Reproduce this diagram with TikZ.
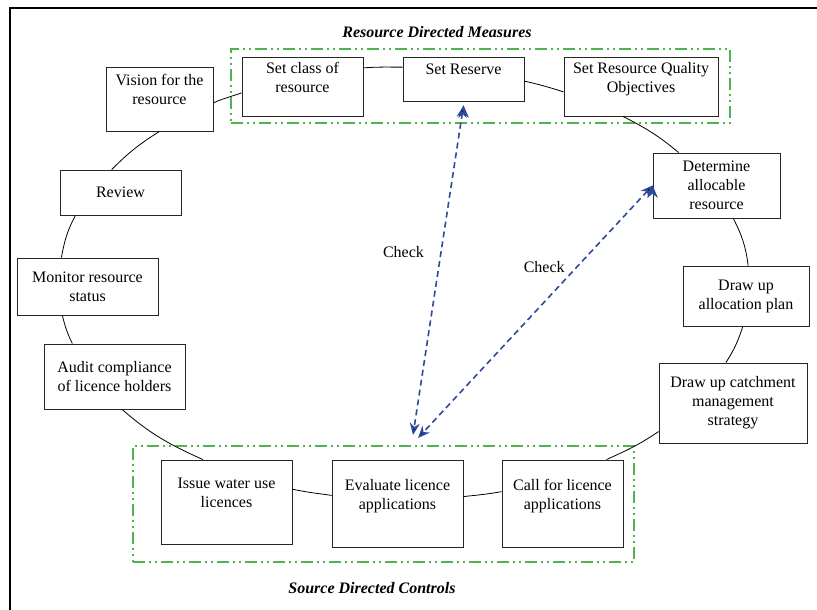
\documentclass[tikz,border=0pt]{standalone}
\usepackage{fontspec}
\setmainfont{Liberation Serif}
\usepackage{tikz}
\usetikzlibrary{arrows.meta, positioning}

\definecolor{checkblue}{RGB}{46,74,156}
\definecolor{groupgreen}{RGB}{80,178,80}

\tikzset{
	stepbox/.style={shape=rectangle, draw=black!85, line width=0.9pt, fill=white, align=center, inner sep=2pt, font=\fontsize{16}{19}\selectfont},
	ring/.style={draw=black, line width=0.8pt},
	group/.style={draw=groupgreen, line width=1.4pt, dash pattern=on 12pt off 4pt on 2pt off 4pt on 2pt off 4pt},
	checkline/.style={<->, >={Stealth[length=12pt,width=10pt]}, draw=checkblue, line width=1.6pt, dash pattern=on 6pt off 4pt},
	checklabel/.style={font=\fontsize{16}{19}\selectfont, text=black},
	grouptitle/.style={font=\fontsize{16}{19}\selectfont\bfseries\itshape}
}

\begin{document}
\begin{tikzpicture}[x=1pt, y=1pt]
	\useasboundingbox (0,0) rectangle (817,610);
	\draw[line width=2.7pt] (10,0) -- (10,602) -- (817,602);
	
	% measures and controls
	\node[group, minimum width=499pt, minimum height=74pt] (rdm) at (480.5,524) {};
	\node[group, minimum width=501pt, minimum height=116pt] (sdc) at (383.5,106) {};
	\node[grouptitle] (rdmtitle) at (437,578) {Resource Directed Measures};
	\node[grouptitle] (sdctitle) at (372,22) {Source Directed Controls};
	
	\node[stepbox, minimum width=107pt, minimum height=64pt] (vision) at (159.5,511) {Vision for the\\resource\\~};
	\node[stepbox, minimum width=121pt, minimum height=59pt] (setclass) at (302.5,523.5) {Set class of\\resource\\~};
	\node[stepbox, minimum width=121pt, minimum height=44pt] (reserve) at (463.5,531) {Set Reserve\\~};
	\node[stepbox, minimum width=154pt, minimum height=59pt] (quality) at (641,523.5) {Set Resource Quality\\Objectives\\~};
	\node[stepbox, minimum width=127pt, minimum height=65pt] (determine) at (716.5,424.5) {Determine\\allocable\\resource};
	\node[stepbox, minimum width=126pt, minimum height=60pt] (allocation) at (746,314) {Draw up\\allocation plan};
	\node[stepbox, minimum width=148pt, minimum height=80pt] (catchment) at (733,207) {Draw up catchment\\management\\strategy};
	\node[stepbox, minimum width=121pt, minimum height=87pt] (call) at (562.5,106.5) {Call for licence\\applications\\~};
	\node[stepbox, minimum width=131pt, minimum height=87pt] (evaluate) at (397.5,106.5) {Evaluate licence\\applications\\~};
	\node[stepbox, minimum width=131pt, minimum height=84pt] (issue) at (226.5,108) {Issue water use\\licences\\~};
	\node[stepbox, minimum width=141pt, minimum height=65pt] (audit) at (114.5,233.5) {Audit compliance\\of licence holders};
	\node[stepbox, minimum width=141pt, minimum height=57pt] (monitor) at (87.5,323.5) {Monitor resource\\status};
	\node[stepbox, minimum width=121pt, minimum height=45pt] (review) at (120.5,417.5) {Review};
	
	% the cycle
	\path [ring] (vision.-4) edge[out=23, in=199] (setclass.186);
	\path [ring] (setclass.17) edge[out=4, in=180] (reserve.169);
	\path [ring] (reserve.-2) edge[out=-13, in=162] (quality.184);
	\path [ring] (quality.239) edge[out=-27, in=140] (determine.139);
	\path [ring] (determine.-63) edge[out=-63, in=97] (allocation.86);
	\path [ring] (allocation.264) edge[out=-108, in=57] (catchment.100);
	\path [ring] (catchment.201) edge[out=-146, in=24] (call.45);
	\path [ring] (call.169) edge[out=-170, in=6] (evaluate.6);
	\path [ring] (evaluate.173) edge[out=172, in=-12] (issue.11);
	\path [ring] (issue.119) edge[out=156, in=-41] (audit.-77);
	\path [ring] (audit.142) edge[out=116, in=-76] (monitor.229);
	\path [ring] (monitor.132) edge[out=80, in=-118] (review.207);
	\path [ring] (review.111) edge[out=45, in=-148] (vision.south);
	
	% checks
	\coordinate (ctlA) at (413,175);
	\coordinate (ctlB) at (418,172);
	\path [checkline] ([yshift=-4pt]reserve.south) edge node[checklabel, pos=0.445, left=13pt] {Check} (ctlA);
	\path [checkline] (determine.west) edge node[checklabel, pos=0.323, left=8pt] {Check} (ctlB);
\end{tikzpicture}
\end{document}
